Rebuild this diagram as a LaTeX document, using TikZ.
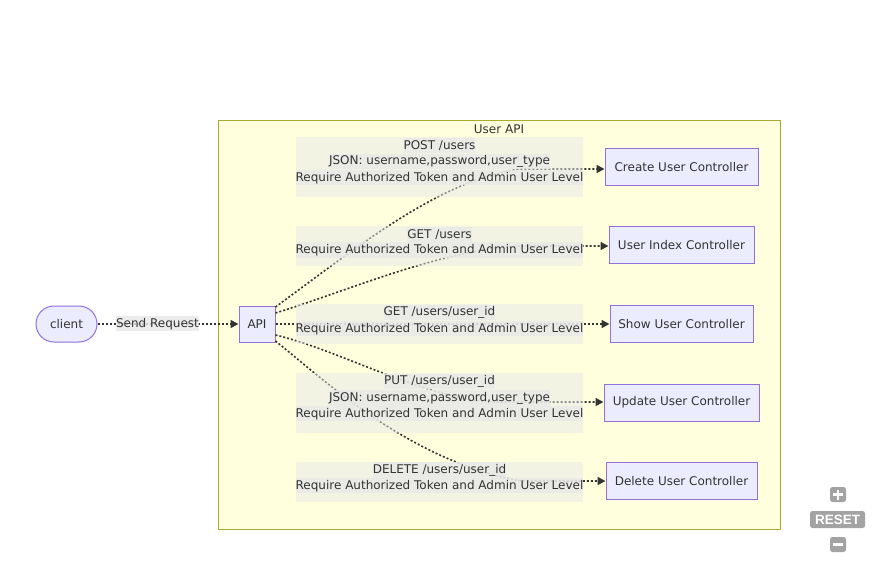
\documentclass[tikz,border=0pt]{standalone}
\usepackage{fontspec}
\setmainfont{DejaVu Sans}
\newfontfamily\btnfont{Liberation Sans}
\usetikzlibrary{arrows.meta,shapes.misc}
\definecolor{nodefill}{HTML}{ECECFF}
\definecolor{nodedraw}{HTML}{9370DB}
\definecolor{clusterfill}{HTML}{FFFFDE}
\definecolor{clusterdraw}{HTML}{AAAA33}
\definecolor{txt}{HTML}{333333}
\definecolor{lblbg}{HTML}{E8E8E8}
\definecolor{ctrlgray}{HTML}{A3A3A3}
\newcommand{\mfont}{\fontsize{12}{14}\selectfont}
\tikzset{
  box/.style={draw=nodedraw, fill=nodefill, line width=1pt, text=txt, font=\mfont, inner sep=0pt, minimum height=37pt},
  cluster/.style={draw=clusterdraw, fill=clusterfill, line width=1pt, inner sep=0pt},
  lblouter/.style={fill=lblbg, fill opacity=0.5, inner sep=0pt, minimum width=287pt},
  lblline/.style={fill=lblbg, fill opacity=0.8, text opacity=1, text=txt, font=\mfont, inner xsep=0pt, inner ysep=0pt, minimum height=15.5pt, yshift=-0.7pt},
  flow/.style={draw=txt, line width=1.6pt, dash pattern=on 2pt off 2pt},
  tip/.style={-{Triangle[length=8pt,width=8pt]}},
  ctrlbtn/.style={fill=ctrlgray, rounded corners=2.5pt, inner sep=0pt},
}
\begin{document}
\begin{tikzpicture}[x=1pt,y=-1pt]
\useasboundingbox (0,0) rectangle (885,560);
\fill[white] (0,0) rectangle (885,560);

% cluster
\node[cluster, minimum width=562pt, minimum height=409pt] (ua) at (499,324.5) {};
\node[text=txt, font=\mfont, inner sep=0pt] (uatitle) at (499,129.5) {User API};

% nodes
\node[box, rounded rectangle, minimum width=61pt, minimum height=36pt] (client) at (66.5,324) {client};
\node[box, minimum width=36pt, minimum height=36pt] (api) at (257,324) {API};
\node[box, minimum width=153pt] (c1) at (681.5,167) {Create User Controller};
\node[box, minimum width=145pt] (c2) at (681.5,245) {User Index Controller};
\node[box, minimum width=143pt] (c3) at (681.5,324) {Show User Controller};
\node[box, minimum width=155pt] (c4) at (681.5,402.5) {Update User Controller};
\node[box, minimum width=151pt] (c5) at (681.5,481) {Delete User Controller};

% edges
\draw[flow, tip] (client.east) -- (api.west);
\draw[flow, tip] ([yshift=17pt]api.east) .. controls (360,245) and (440,180) .. (520,169) -- (c1.west |- 0,169);
\draw[flow, tip] ([yshift=11pt]api.east) .. controls (350,290) and (440,250) .. (520,246) -- (c2.west |- 0,246);
\draw[flow, tip] (api.east) -- (c3.west);
\draw[flow, tip] ([yshift=-11pt]api.east) .. controls (340,350) and (430,402) .. (500,402) -- (c4.west |- 0,402);
\draw[flow, tip] ([yshift=-17pt]api.east) .. controls (330,385) and (410,460) .. (520,481) -- (c5.west |- 0,481);

% edge labels
\node[lblline] (lsend) at (157.5,323) {Send Request};

\node[lblouter, minimum height=60pt] (l1) at (439.5,167) {};
\node[lblline] (l1a) at (439.5,145) {POST /users};
\node[lblline] (l1b) at (439.5,161) {JSON: username,password,user\_type};
\node[lblline] (l1c) at (439.5,177) {Require Authorized Token and Admin User Level};

\node[lblouter, minimum height=40pt] (l2) at (439.5,246) {};
\node[lblline] (l2a) at (439.5,234) {GET /users};
\node[lblline] (l2b) at (439.5,249.5) {Require Authorized Token and Admin User Level};

\node[lblouter, minimum height=40pt] (l3) at (439.5,324) {};
\node[lblline] (l3a) at (439.5,312) {GET /users/user\_id};
\node[lblline] (l3b) at (439.5,328) {Require Authorized Token and Admin User Level};

\node[lblouter, minimum height=60pt] (l4) at (439.5,403) {};
\node[lblline] (l4a) at (439.5,381) {PUT /users/user\_id};
\node[lblline] (l4b) at (439.5,397.5) {JSON: username,password,user\_type};
\node[lblline] (l4c) at (439.5,413) {Require Authorized Token and Admin User Level};

\node[lblouter, minimum height=40pt] (l5) at (439.5,482) {};
\node[lblline] (l5a) at (439.5,469.5) {DELETE /users/user\_id};
\node[lblline] (l5b) at (439.5,485) {Require Authorized Token and Admin User Level};

% zoom controls
\node[ctrlbtn, minimum width=16pt, minimum height=15pt] (plus) at (838,494.5) {};
\draw[white, line width=2.6pt] ([xshift=-5pt]plus.center) -- ([xshift=5pt]plus.center);
\draw[white, line width=2.6pt] ([yshift=-5pt]plus.center) -- ([yshift=5pt]plus.center);
\node[ctrlbtn, minimum width=55pt, minimum height=17pt, text=white, font=\btnfont\bfseries\fontsize{13.5}{14}\selectfont] (reset) at (837.5,519.5) {RESET};
\node[ctrlbtn, minimum width=16pt, minimum height=15pt] (minus) at (838,544.5) {};
\draw[white, line width=2.6pt] ([xshift=-5pt]minus.center) -- ([xshift=5pt]minus.center);
\end{tikzpicture}
\end{document}
